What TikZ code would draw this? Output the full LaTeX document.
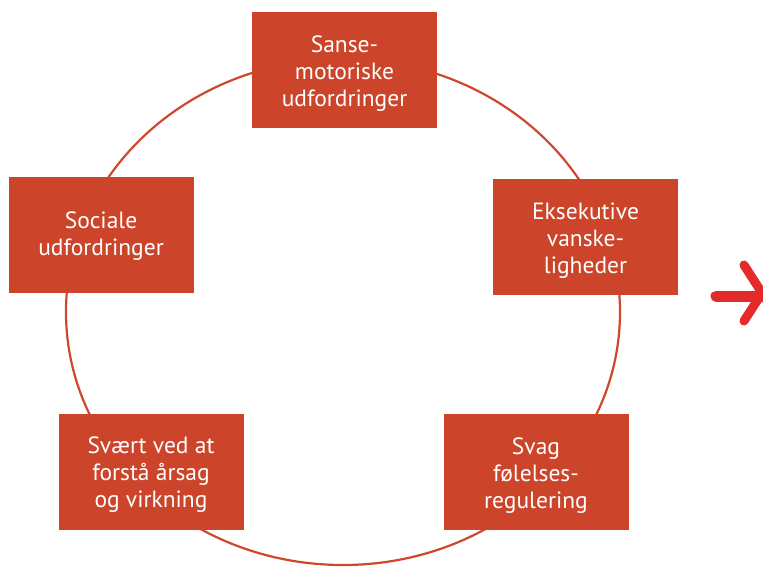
\documentclass[tikz,border=0pt]{standalone}
\usepackage{fontspec}
\setmainfont{PT Sans}
\definecolor{boxred}{HTML}{CC4429}
\definecolor{ringred}{HTML}{CF472C}
\definecolor{arrowred}{HTML}{E32B2B}
\tikzset{
  box/.style={rectangle, fill=boxred, minimum width=185pt, minimum height=116pt, inner sep=0pt},
  lbl/.style={text=white, inner sep=0pt, align=center, font=\fontsize{23.5}{27}\selectfont},
  ring/.style={draw=ringred, line width=2.2pt},
  brush/.style={draw=arrowred, line cap=round, line join=round}
}
\begin{document}
\begin{tikzpicture}[x=1pt,y=-1pt]
\useasboundingbox (0,0) rectangle (763,566);
\clip (0,0) rectangle (763,566);
\draw[ring] (343,312) ellipse [x radius=277pt, y radius=253pt];
\node[box] (top) at (344.5,69.5) {};
\node[box] (left) at (101,235) {};
\node[box] (right) at (585.5,237) {};
\node[box] (bl) at (151,471.5) {};
\node[box] (br) at (536,471.5) {};
\node[lbl] (topt) at ([yshift=-4pt]top.center) {Sanse-\\motoriske\\udfordringer};
\node[lbl] (leftt) at ([yshift=-1pt]left.center) {Sociale\\udfordringer};
\node[lbl] (rightt) at ([yshift=-4pt]right.center) {Eksekutive\\vanske-\\ligheder};
\node[lbl] (blt) at ([yshift=-3pt]bl.center) {Svært ved at\\forstå årsag\\og virkning};
\node[lbl] (brt) at ([yshift=-4pt]br.center) {Svag\\følelses-\\regulering};
\draw[brush, line width=11pt] (716,296) -- (770,296);
\draw[brush, line width=9pt] (744,265) -- (762,293) -- (744,321);
\end{tikzpicture}
\end{document}
